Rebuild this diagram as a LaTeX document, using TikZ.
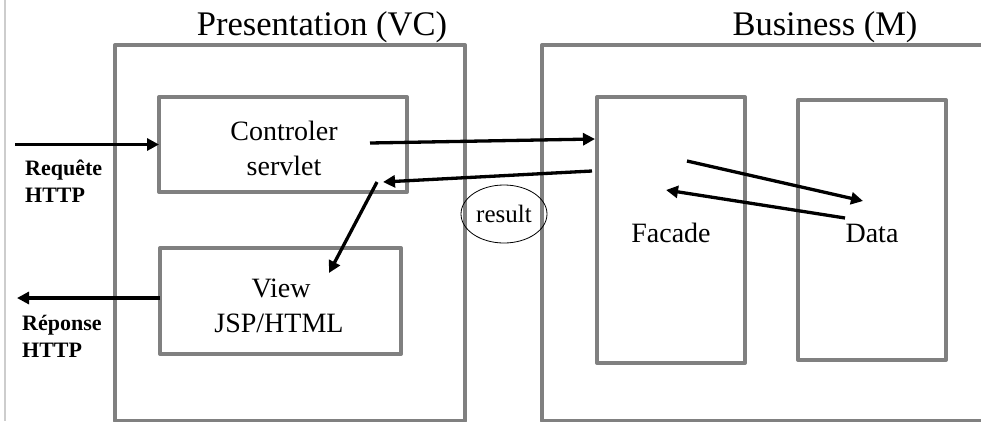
\documentclass[tikz,border=0pt]{standalone}
\usepackage{fontspec}
\setmainfont{Liberation Serif}
\usetikzlibrary{arrows.meta,shapes.geometric}
\definecolor{boxgray}{RGB}{128,128,128}
\definecolor{edgegray}{RGB}{205,205,205}
\begin{document}
\begin{tikzpicture}[x=1pt,y=-1pt,
  frame/.style={draw=boxgray,line width=4pt,line join=round,inner sep=0pt,outer sep=0pt},
  flow/.style={line width=3.3pt,-{Triangle[length=12pt,width=12pt]}},
  titletext/.style={font=\fontsize{34.5}{40}\selectfont,anchor=base,inner sep=0pt},
  boxtext/.style={font=\fontsize{28}{34}\selectfont,anchor=base,inner sep=0pt},
  sidetext/.style={font=\fontsize{22}{26}\selectfont\bfseries,anchor=base west,inner sep=0pt}]
\clip (0,0) rectangle (981,421);
\fill[white] (0,0) rectangle (981,421);
\draw[edgegray,line width=1.5pt] (5,0) -- (5,421);

% layers
\node[frame,minimum width=350pt,minimum height=376pt] (pres) at (290,233) {};
\node[frame,minimum width=458pt,minimum height=376pt] (bus) at (771,233) {};
\node[titletext] (prestitle) at (322,35) {Presentation (VC)};
\node[titletext] (bustitle) at (825,35) {Business (M)};

% inner boxes
\node[frame,minimum width=248pt,minimum height=95pt] (ctl) at (283,144.5) {};
\node[boxtext] (ctlA) at (284,140) {Controler};
\node[boxtext] (ctlB) at (284,175) {servlet};

\node[frame,minimum width=241pt,minimum height=106pt] (view) at (280.5,301) {};
\node[boxtext] (viewA) at (281,297) {View};
\node[boxtext] (viewB) at (279,332) {JSP/HTML};

\node[frame,minimum width=148pt,minimum height=266pt] (fac) at (671,230) {};
\node[boxtext] (facT) at (671,242) {Facade};

\node[frame,minimum width=148pt,minimum height=260pt] (dat) at (872,230) {};
\node[boxtext] (datT) at (872,242) {Data};

% side labels
\node[sidetext] (reqA) at (25,175) {Requête};
\node[sidetext] (reqB) at (25,202) {HTTP};
\node[sidetext] (repA) at (22,330) {Réponse};
\node[sidetext] (repB) at (22,357) {HTTP};

% result
\node[draw,ellipse,line width=0.8pt,minimum width=86pt,minimum height=58pt,inner sep=0pt,
      font=\fontsize{25}{30}\selectfont] (res) at (504,214) {result};

% connector ends
\coordinate (reqstart) at (15,144.5);
\coordinate (respend) at (17,298);
\coordinate (ctlout) at (370,143);
\coordinate (facin) at (595,139);
\coordinate (facout) at (592,171);
\coordinate (ctlin) at (383,182);
\coordinate (ctldown) at (377,182);
\coordinate (viewin) at (329,273);
\coordinate (facdat) at (687,161);
\coordinate (datin) at (863,201);
\coordinate (datout) at (845,218);
\coordinate (facret) at (666,190);

% connectors
\draw[flow] (reqstart) -- (ctl.west |- reqstart);
\draw[flow] (view.west |- respend) -- (respend);
\draw[flow] (ctlout) -- (facin);
\draw[flow] (facout) -- (ctlin);
\draw[flow] (ctldown) -- (viewin);
\draw[flow] (facdat) -- (datin);
\draw[flow] (datout) -- (facret);
\end{tikzpicture}
\end{document}
